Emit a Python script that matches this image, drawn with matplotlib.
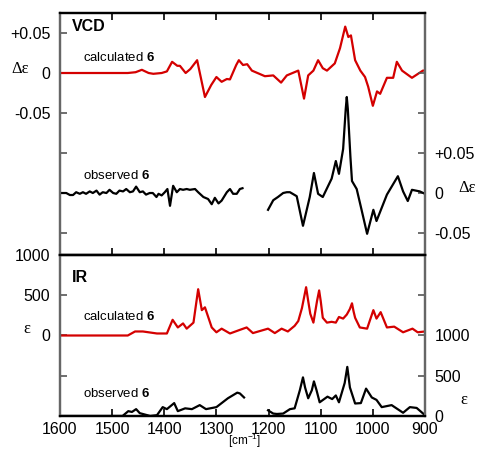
import matplotlib.pyplot as plt

plt.rcParams['font.family'] = ['Liberation Sans', 'DejaVu Sans']
plt.rcParams['mathtext.fontset'] = 'custom'
plt.rcParams['mathtext.rm'] = 'Liberation Sans'
plt.rcParams['mathtext.bf'] = 'Liberation Sans:bold'

# VCD calculated (left axis)
vcd_calc_w = [1600, 1470, 1455, 1443, 1430, 1421, 1405, 1395, 1385, 1375, 1370, 1359, 1350, 1337,
              1322, 1310, 1300, 1290, 1280, 1274, 1262, 1257, 1249, 1241, 1232, 1207, 1191, 1176,
              1165, 1143, 1132, 1124, 1114, 1105, 1096, 1088, 1073, 1063, 1053, 1047, 1042, 1034,
              1024, 1015, 1009, 1000, 992, 986, 973, 961, 954, 944, 925, 904, 900]
vcd_calc = [0, 0, 0.001, 0.004, 0.0, -0.001, 0.0, 0.002, 0.014, 0.009, 0.009, 0.0, 0.005, 0.016,
            -0.030, -0.015, -0.005, -0.011, -0.0075, -0.008, 0.010, 0.016, 0.010, 0.011, 0.003,
            -0.004, -0.003, -0.012, -0.003, 0.003, -0.032, -0.003, 0.003, 0.016, 0.006, 0.003,
            0.012, 0.031, 0.058, 0.045, 0.047, 0.016, 0.003, -0.005, -0.017, -0.041, -0.023,
            -0.026, -0.006, -0.006, 0.014, 0.003, -0.006, 0.003, 0.003]

# VCD observed (right axis), two segments
vcd_obs1_w = [1600, 1597, 1588, 1581, 1575, 1569, 1562, 1556, 1550, 1543, 1537, 1530, 1524, 1518,
              1511, 1505, 1498, 1492, 1486, 1479, 1473, 1466, 1460, 1454, 1447, 1441, 1435, 1428,
              1422, 1415, 1411, 1405, 1399, 1394, 1389, 1383, 1376, 1370, 1364, 1357, 1351, 1341,
              1335, 1325, 1316, 1309, 1303, 1296, 1290, 1280, 1274, 1268, 1261, 1255, 1250]
vcd_obs1 = [0.0, 0.0, 0.0, -0.0025, -0.0025, 0.001, -0.001, 0.001, -0.001, 0.002, 0.0, 0.003,
            -0.002, 0.001, 0.0, 0.004, 0.0, -0.001, 0.003, 0.002, 0.005, 0.001, 0.002, 0.008,
            0.001, 0.002, -0.002, 0.0, 0.0, -0.005, -0.001, -0.003, 0.001, 0.005, -0.016, 0.009,
            0.001, 0.005, 0.004, 0.005, 0.004, 0.005, 0.001, -0.005, -0.0075, -0.014, -0.006,
            -0.013, -0.0095, 0.001, 0.005, -0.001, -0.001, 0.005, 0.006]
vcd_obs2_w = [1201, 1191, 1182, 1172, 1165, 1159, 1146, 1134, 1121, 1113, 1105, 1096, 1079, 1071,
              1065, 1057, 1052, 1050, 1048, 1043, 1040, 1031, 1022, 1011, 999, 993, 973, 952, 942,
              933, 925, 910, 900]
vcd_obs2 = [-0.021, -0.009, -0.005, 0.0, 0.001, 0.001, -0.004, -0.041, -0.005, 0.025, -0.001,
            -0.005, 0.018, 0.040, 0.024, 0.055, 0.105, 0.120, 0.105, 0.045, 0.015, 0.005, -0.020,
            -0.051, -0.021, -0.035, -0.002, 0.021, 0.002, -0.010, 0.004, 0.002, -0.001]

# IR calculated (left axis)
ir_calc_w = [1600, 1470, 1456, 1441, 1414, 1395, 1384, 1374, 1364, 1357, 1344, 1335, 1328, 1322,
             1309, 1300, 1290, 1274, 1255, 1242, 1230, 1201, 1188, 1175, 1163, 1150, 1143, 1136,
             1128, 1124, 1120, 1114, 1107, 1103, 1100, 1096, 1088, 1079, 1071, 1065, 1057, 1050,
             1044, 1040, 1037, 1034, 1025, 1011, 999, 993, 985, 973, 959, 942, 924, 914, 900]
ir_calc = [0, 0, 50, 50, 25, 25, 195, 100, 150, 85, 160, 575, 315, 350, 100, 40, 85, 25, 70, 100,
           30, 85, 30, 85, 50, 120, 180, 340, 600, 430, 270, 160, 430, 560, 430, 220, 160, 170,
           160, 230, 210, 260, 330, 400, 300, 220, 100, 85, 315, 210, 290, 100, 110, 40, 85, 40, 50]

# IR observed (right axis), two segments
ir_obs1_w = [1600, 1480, 1469, 1462, 1454, 1447, 1427, 1414, 1403, 1395, 1381, 1374, 1360, 1347,
             1332, 1320, 1300, 1278, 1260, 1255, 1247]
ir_obs1 = [0, 0, 60, 50, 85, 35, 0, 10, 110, 85, 160, 60, 95, 85, 135, 85, 110, 220, 290, 280, 230]
ir_obs2_w = [1201, 1191, 1184, 1172, 1159, 1150, 1140, 1134, 1130, 1124, 1117, 1113, 1108, 1102,
             1087, 1078, 1071, 1065, 1054, 1049, 1044, 1034, 1023, 1013, 1002, 993, 983, 964, 942,
             929, 916, 900]
ir_obs2 = [70, 30, 25, 30, 85, 95, 320, 480, 355, 220, 320, 430, 320, 170, 240, 210, 255, 170,
           410, 610, 355, 155, 160, 340, 230, 200, 110, 135, 40, 110, 100, 10]

red = '#d40000'
fig = plt.figure(figsize=(4.78, 4.5), dpi=100)
ax1 = fig.add_axes([0.1255, 0.4333, 0.7636, 0.5378])
ax2 = fig.add_axes([0.1255, 0.0756, 0.7636, 0.3577])
ax1r = ax1.twinx()
ax2r = ax2.twinx()

ax1.plot(vcd_calc_w, vcd_calc, color=red, lw=1.6)
ax1r.plot(vcd_obs1_w, vcd_obs1, color='black', lw=1.6)
ax1r.plot(vcd_obs2_w, vcd_obs2, color='black', lw=1.6)
ax2.plot(ir_calc_w, ir_calc, color=red, lw=1.6)
ax2r.plot(ir_obs1_w, ir_obs1, color='black', lw=1.6)
ax2r.plot(ir_obs2_w, ir_obs2, color='black', lw=1.6)

for ax in (ax1, ax2):
    ax.set_xlim(1600, 900)
    ax.set_xticks(range(1600, 899, -100))

ax1.set_ylim(-0.2275, 0.075)
ax1r.set_ylim(-0.0775, 0.225)
ax1.set_yticks([0.05, 0, -0.05, -0.1, -0.15, -0.2])
ax1.set_yticklabels(['+0.05', '0', '-0.05', '', '', ''])
ax1r.set_yticks([0.15, 0.1, 0.05, 0, -0.05])
ax1r.set_yticklabels(['', '', '+0.05', '0', '-0.05'])

ax2.set_ylim(-1000, 1000)
ax2r.set_ylim(0, 2000)
ax2.set_yticks([1000, 500, 0, -500])
ax2.set_yticklabels(['1000', '500', '0', ''])
ax2r.set_yticks([0, 500, 1000, 1500])
ax2r.set_yticklabels(['0', '500', '1000', ''])

ax1.tick_params(axis='x', direction='in', top=True, bottom=True, labelbottom=False, length=5, width=1.2)
ax2.tick_params(axis='x', direction='in', top=False, bottom=True, labelsize=11.5, length=5, width=1.2, pad=4)
for ax in (ax1, ax2, ax1r, ax2r):
    ax.tick_params(axis='y', direction='in', labelsize=11.5, length=5, width=1.2, pad=7, color='#555555')
    for side in ('top', 'bottom'):
        ax.spines[side].set_linewidth(1.6)
        ax.spines[side].set_color('black')
    for side in ('left', 'right'):
        ax.spines[side].set_linewidth(1.6)
        ax.spines[side].set_color('#666666')

ax1.text(0.033, 0.945, 'VCD', transform=ax1.transAxes, fontsize=11.5, fontweight='bold', va='center')
ax2.text(0.033, 0.86, 'IR', transform=ax2.transAxes, fontsize=11.5, fontweight='bold', va='center')
ax1.text(1556, 0.02, 'calculated $\\mathbf{6}$', fontsize=9.5, va='center')
ax1r.text(1556, 0.022, 'observed $\\mathbf{6}$', fontsize=9.5, va='center')
ax2.text(1556, 235, 'calculated $\\mathbf{6}$', fontsize=9.5, va='center')
ax2r.text(1556, 280, 'observed $\\mathbf{6}$', fontsize=9.5, va='center')

serif = ['Liberation Serif', 'DejaVu Serif']
fig.text(20 / 478, 1 - 69 / 450, 'Δε', family=serif, fontsize=12, ha='center', va='center')
fig.text(467 / 478, 1 - 188 / 450, 'Δε', family=serif, fontsize=12, ha='center', va='center')
fig.text(27 / 478, 1 - 329 / 450, 'ε', family=serif, fontsize=12, ha='center', va='center')
fig.text(464 / 478, 1 - 400 / 450, 'ε', family=serif, fontsize=12, ha='center', va='center')
fig.text(245 / 478, 1 - 441 / 450, '[cm$^{-1}$]', fontsize=8.5, ha='center', va='center')

plt.savefig('out.png', dpi=100)
